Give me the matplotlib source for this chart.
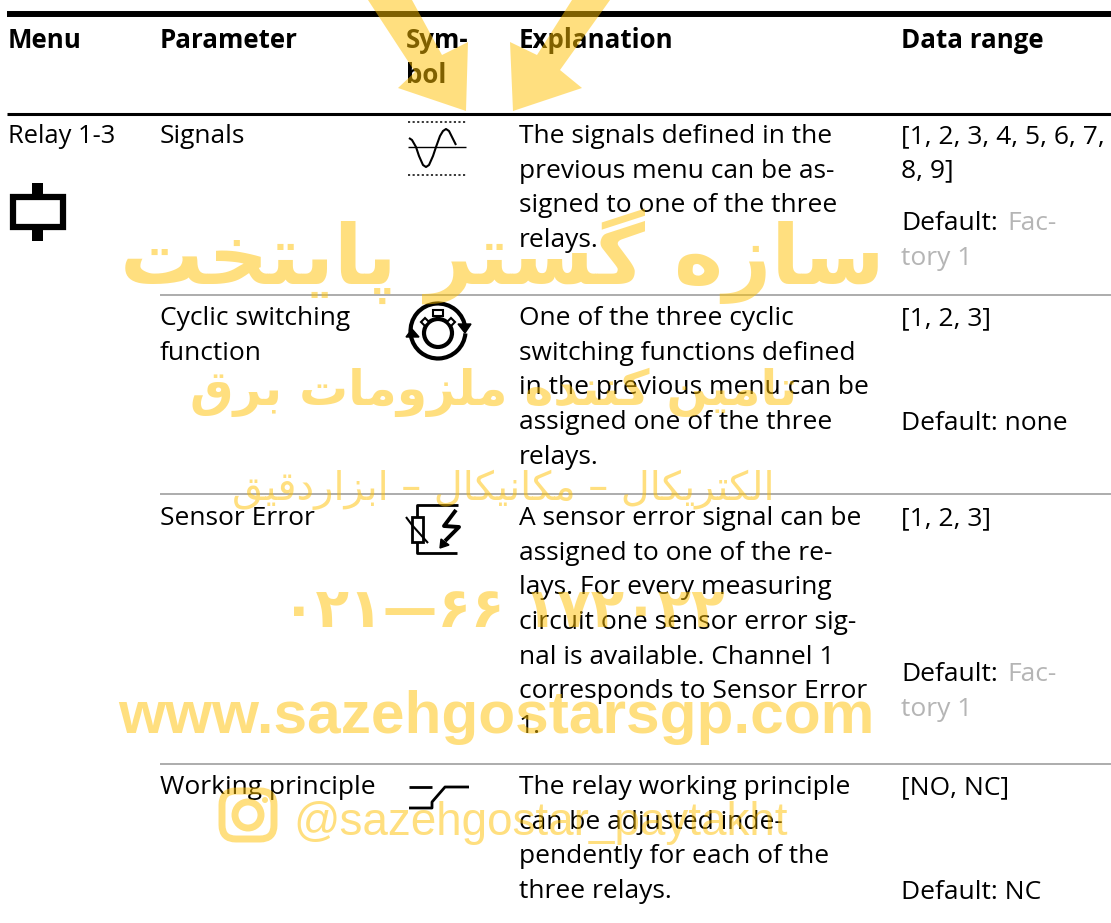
import matplotlib
matplotlib.use("Agg")
import matplotlib.pyplot as plt
from matplotlib.patches import Polygon, Rectangle, Circle, Arc, FancyBboxPatch

W, H = 1111, 923

# Table content
header_cols = ["Menu", "Parameter", "Sym-\nbol", "Explanation", "Data range"]
menu_text = "Relay 1-3"
param_text = ["Signals", "Cyclic switching\nfunction", "Sensor Error", "Working principle"]
explain_text = [
    "The signals defined in the\nprevious menu can be as-\nsigned to one of the three\nrelays.",
    "One of the three cyclic\nswitching functions defined\nin the previous menu can be\nassigned one of the three\nrelays.",
    "A sensor error signal can be\nassigned to one of the re-\nlays. For every measuring\ncircuit one sensor error sig-\nnal is available. Channel 1\ncorresponds to Sensor Error\n1.",
    "The relay working principle\ncan be adjusted inde-\npendently for each of the\nthree relays.",
]
range_text = ["[1, 2, 3, 4, 5, 6, 7,\n8, 9]", "[1, 2, 3]", "[1, 2, 3]", "[NO, NC]"]
default_text = ["Default:", "Default: none", "Default:", "Default: NC"]
default_grey = [("Fac-", "tory 1"), None, ("Fac-", "tory 1"), None]

# Watermark lines
wm_title = "سازه گستر پایتخت"
wm_sub = "تامین کننده ملزومات برق"
wm_trade = "الکتریکال – مکانیکال – ابزاردقیق"
wm_phone = "۰۲۱—۶۶ ۱۷۲۰۲۲"
wm_site = "www.sazehgostarsgp.com"
wm_insta = "@sazehgostar_paytakht"

col_x = [8, 160, 406, 519, 901]
row_y = [143, 325, 525, 794]
default_y = [230, 430, 681, 899]
rule_y = [295, 494, 764]
line_h = 34.7

# isolated, final, initial, medial
forms = {
    "ا": "\uFE8D\uFE8E", "د": "\uFEA9\uFEAA", "ر": "\uFEAD\uFEAE", "ز": "\uFEAF\uFEB0", "و": "\uFEED\uFEEE",
    "ب": "\uFE8F\uFE90\uFE91\uFE92", "پ": "\uFB56\uFB57\uFB58\uFB59", "ت": "\uFE95\uFE96\uFE97\uFE98",
    "خ": "\uFEA5\uFEA6\uFEA7\uFEA8", "س": "\uFEB1\uFEB2\uFEB3\uFEB4", "ق": "\uFED5\uFED6\uFED7\uFED8",
    "ک": "\uFB8E\uFB8F\uFB90\uFB91", "گ": "\uFB92\uFB93\uFB94\uFB95", "ل": "\uFEDD\uFEDE\uFEDF\uFEE0",
    "م": "\uFEE1\uFEE2\uFEE3\uFEE4", "ن": "\uFEE5\uFEE6\uFEE7\uFEE8", "ه": "\uFEE9\uFEEA\uFEEB\uFEEC",
    "ی": "\uFBFC\uFBFD\uFBFE\uFBFF",
}


def shape(s):
    # matplotlib does no Arabic shaping, so pick the joined forms and reverse
    out = []
    for i, c in enumerate(s):
        if c not in forms:
            out.append(c)
            continue
        f = forms[c]
        joins_prev = i > 0 and s[i - 1] in forms and len(forms[s[i - 1]]) == 4
        joins_next = i < len(s) - 1 and s[i + 1] in forms and len(f) == 4
        if joins_prev and joins_next:
            out.append(f[3])
        elif joins_next:
            out.append(f[2])
        elif joins_prev:
            out.append(f[1])
        else:
            out.append(f[0])
    return "".join(reversed(out))


fig = plt.figure(figsize=(W / 100, H / 100), dpi=100)
ax = fig.add_axes([0, 0, 1, 1])
ax.set_xlim(0, W)
ax.set_ylim(H, 0)
ax.axis("off")

font = "Open Sans"
size = 19.0


def put(x, y, s, color="black", weight="normal", fs=size):
    # y is the baseline of the first line
    for i, part in enumerate(s.split("\n")):
        ax.text(x, y + i * line_h, part, family=font, fontsize=fs, color=color,
                fontweight=weight, va="baseline", ha="left")


def fit(s, x0, x1, y, family, weight):
    # Scale the font so the text spans x0..x1
    t = ax.text(x0, y, s, family=family, fontweight=weight, fontsize=40, color=wm_color,
                alpha=wm_alpha, va="baseline", ha="left", zorder=10)
    w = t.get_window_extent(fig.canvas.get_renderer()).width
    t.set_fontsize(40 * (x1 - x0) / w)
    return t


def line(xs, ys, lw=2.0, **kw):
    ax.plot(xs, ys, color="black", lw=lw, solid_capstyle="butt", **kw)


# Rules
line([7, W], [14, 14], lw=4.3)
line([7, W], [113.5, 113.5], lw=2.2)
for y in rule_y:
    ax.plot([160, W], [y, y], color="#a6a6a6", lw=1.3, solid_capstyle="butt")

# Text
for x, s in zip(col_x, header_cols):
    put(x, 48, s, weight="bold", fs=18.6)
put(col_x[0], 143, menu_text, fs=18.4)
for i in range(4):
    put(col_x[1], row_y[i], param_text[i])
    put(col_x[3], row_y[i], explain_text[i])
    put(col_x[4], row_y[i], range_text[i])
    put(col_x[4], default_y[i], default_text[i])
    if default_grey[i]:
        put(1007, default_y[i], default_grey[i][0], color="#b5b5b5")
        put(col_x[4], default_y[i] + line_h, default_grey[i][1], color="#b5b5b5")

# Menu icon
ax.add_patch(Rectangle((13, 196.5), 50, 30, fc="white", ec="black", lw=4.5))
ax.add_patch(Rectangle((32, 183), 11, 12, fc="black", ec="none"))
ax.add_patch(Rectangle((32, 229), 11, 12, fc="black", ec="none"))

# Signals icon
for y in [121.5, 175]:
    ax.plot([408, 466], [y, y], color="black", lw=1.1, ls=(0, (1.4, 1.6)))
line([408, 466], [147, 147], lw=1.0)
line([409, 412, 416, 419, 423, 426, 429, 433, 436, 440, 443, 446, 449, 452, 456],
     [138, 140, 147, 156, 165, 167, 165, 156, 147, 136, 131, 129, 131, 137, 145], lw=1.5)

# Cyclic switching icon
ax.add_patch(Circle((438, 333), 14, fc="none", ec="black", lw=3.0))
ax.add_patch(Rectangle((433, 310), 10, 6, fc="white", ec="black", lw=1.5))
for cx in (425, 451):
    ax.add_patch(Polygon([(cx - 4, 322), (cx, 318), (cx + 4, 322), (cx, 326)], fc="white", ec="black", lw=1.5))
ax.add_patch(Arc((438, 331), 55, 55, theta1=175, theta2=355, color="black", lw=3.0))
ax.add_patch(Arc((438, 331), 55, 55, theta1=5, theta2=170, color="black", lw=3.0))
ax.add_patch(Polygon([(458, 324), (471, 324), (465, 333)], fc="black", ec="black"))
ax.add_patch(Polygon([(406, 337), (419, 337), (412, 329)], fc="black", ec="black"))

# Sensor error icon
line([458, 417, 417], [505, 505, 517], lw=2.0)
line([417, 417, 457], [542, 553, 553], lw=2.0)
ax.add_patch(Rectangle((412, 517), 11, 25, fc="white", ec="black", lw=2.0))
line([406, 412, 428], [517, 525, 543], lw=1.5)
line([456, 444, 459, 445], [510, 526, 527, 541], lw=2.8)
ax.add_patch(Polygon([(440, 548), (441, 539), (449, 545)], fc="black", ec="black"))

# Working principle icon
line([409, 432], [787, 787], lw=2.0)
line([409, 432, 432, 445, 469], [808, 808, 802, 787, 787], lw=2.0)

# Watermark
wm_color = "#FFC000"
wm_alpha = 0.5
ax.add_patch(Polygon([(368, 0), (415, 72), (398, 88), (466, 111), (468, 42), (442, 55), (412, 0)],
                     fc=wm_color, ec="none", alpha=wm_alpha, zorder=10))
ax.add_patch(Polygon([(510, 42), (537, 55), (572, 0), (610, 0), (560, 70), (582, 88), (513, 111)],
                     fc=wm_color, ec="none", alpha=wm_alpha, zorder=10))
fit(shape(wm_title), 120, 885, 284, "DejaVu Sans", "bold")
fit(shape(wm_sub), 190, 798, 405, "DejaVu Sans", "bold")
fit(shape(wm_trade), 232, 775, 500, "DejaVu Sans", "normal")
fit(wm_phone, 282, 725, 627, "DejaVu Sans", "bold")
fit(wm_site, 118, 873, 733, "Liberation Sans", "bold")
fit(wm_insta, 293, 787, 835, "Liberation Sans", "normal")
ax.add_patch(FancyBboxPatch((222, 791), 52, 48, boxstyle="round,pad=0,rounding_size=14", fc="none",
                            ec=wm_color, alpha=wm_alpha, lw=5, zorder=10))
ax.add_patch(Circle((248, 815), 13, fc="none", ec=wm_color, alpha=wm_alpha, lw=5, zorder=10))
ax.add_patch(Circle((265, 800), 3, fc=wm_color, ec="none", alpha=wm_alpha, zorder=10))

fig.savefig("out.png", dpi=100)
